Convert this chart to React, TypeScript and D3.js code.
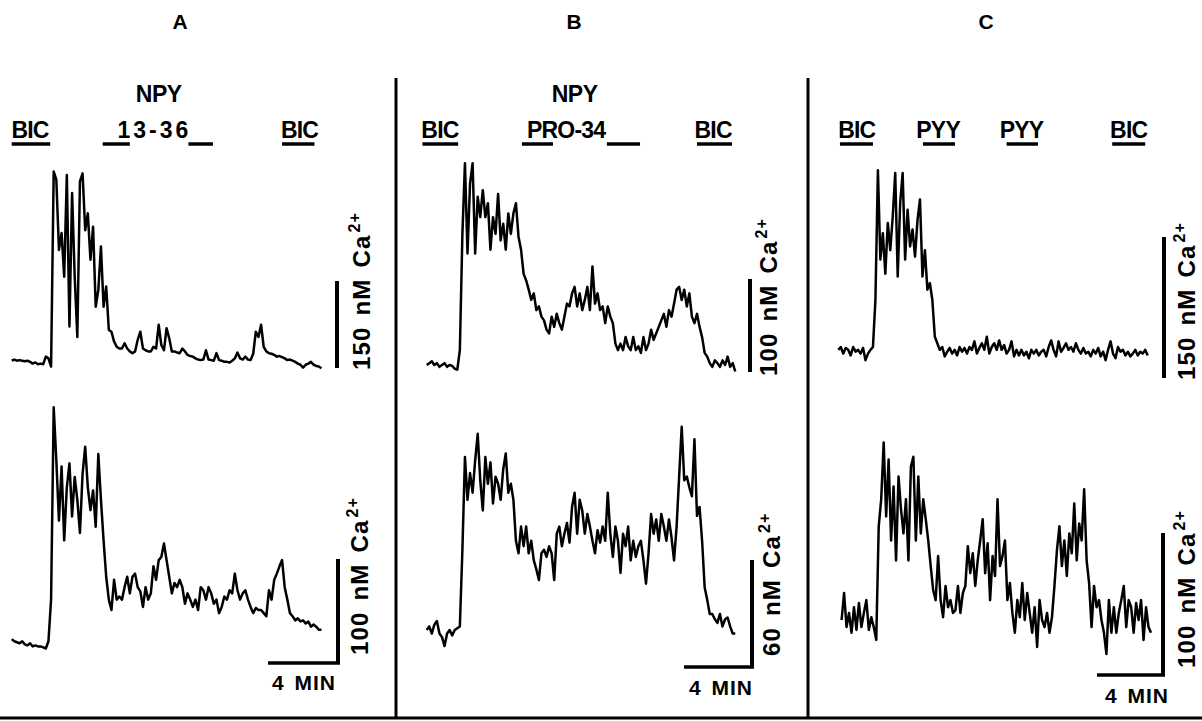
import React from "react";
import * as d3 from "d3";

// ---------- DATA (Δ[Ca2+] in nM, sampled every STEP minutes) ----------
const STEP = 0.15;

const traceATop = [0,2,0,1,0,-1,0,-2,-5,-3,-6,-5,-6,7,4,-10,326,312,191,220,145,320,59,289,145,41,309,323,225,254,174,231,93,122,197,93,128,53,50,33,24,21,21,30,21,16,13,16,36,50,21,18,16,16,24,21,62,27,18,56,39,16,16,14,13,21,16,10,8,7,4,2,1,2,18,2,1,0,13,1,0,-2,-2,-3,0,4,14,4,2,7,2,1,12,50,41,62,24,16,13,12,10,7,8,6,4,1,2,0,-2,-5,-7,-12,-7,-5,-2,-7,-9,-10,-13];
const traceABottom = [4,2,1,0,2,-1,-2,0,-3,-2,-3,-3,-4,-5,2,42,227,176,118,170,99,150,173,122,160,138,106,163,189,150,128,147,112,182,138,99,64,42,32,61,42,45,42,54,64,48,64,67,54,50,35,54,42,48,74,61,80,83,96,80,64,48,58,54,61,54,38,48,42,35,42,32,54,51,42,54,48,38,42,29,35,45,42,51,48,67,51,42,48,51,42,35,29,34,32,32,29,26,51,42,61,67,74,80,54,42,29,26,22,24,21,22,19,21,16,18,16,13,13];
const traceBTop = [0,2,4,0,2,-2,0,2,-2,0,-1,-4,-5,16,141,217,120,195,217,120,181,159,188,159,174,124,159,141,184,134,152,124,163,141,163,174,138,124,98,91,81,70,77,59,63,52,48,38,34,52,41,55,45,38,52,66,63,77,84,63,77,59,70,84,59,106,66,77,59,63,45,63,52,45,23,16,23,16,30,20,16,30,16,20,13,30,16,23,38,27,34,41,48,55,41,59,52,66,81,84,70,81,63,77,52,45,55,41,30,13,9,2,-2,5,2,-2,5,0,9,-2,2,-7];
const traceBBottom = [0,2,-2,3,5,-2,-4,-9,-2,0,-3,0,1,2,45,97,73,88,77,95,110,84,67,97,82,94,71,86,82,73,90,99,77,82,73,50,43,58,47,58,43,50,39,34,28,43,45,41,47,43,28,54,58,47,54,60,49,69,77,54,73,67,54,65,58,50,43,56,49,58,50,77,54,41,58,50,32,54,47,58,39,50,41,47,50,39,26,43,65,54,62,50,65,58,50,62,52,39,58,86,114,84,86,80,75,107,64,69,50,24,17,9,9,6,4,9,2,6,7,2,-2,-2];
const traceCTop = [2,5,-2,4,2,-4,5,0,2,-2,4,-9,-2,2,5,55,193,98,126,83,137,108,144,190,80,158,190,98,151,112,130,101,140,162,80,108,66,73,55,16,9,2,5,-5,0,4,-2,2,-4,5,0,4,-2,5,2,11,-2,4,9,2,16,-2,5,9,2,12,2,7,-2,2,11,-5,2,-4,2,-4,0,-7,2,-2,2,-4,0,2,-5,5,12,2,-5,11,0,4,9,2,5,0,9,2,-2,4,-2,0,-5,2,-2,4,-5,0,-9,2,11,-2,-7,5,0,2,-4,0,-5,-2,2,-4,0,-2,2,-4];
const traceCBottom = [0,19,-5,5,-9,9,-7,12,-5,5,14,-7,2,-5,-14,66,85,125,73,113,56,94,42,101,78,61,85,42,108,115,56,101,61,85,71,56,38,21,14,45,14,2,24,9,14,5,7,24,5,19,24,52,33,47,24,42,56,71,33,54,14,45,31,85,38,45,56,14,26,5,-9,14,2,26,0,19,5,-9,9,-19,14,0,-5,5,-9,2,24,49,66,38,56,31,61,47,82,42,68,56,92,42,26,-5,24,9,14,0,-9,-24,14,-9,9,-9,5,14,24,-5,14,9,-9,12,0,14,-14,9,-5,-9];

// calibration bars (nM) for each trace and time bar (min)
const calibNM = [150, 100, 100, 60, 150, 100];
const timeBarMin = 4;

const panelNames = ["A", "B", "C"];
const agonistHeads = ["NPY", "NPY", ""];

// drug application periods (min)
const barsA = [[0, 2.2], [5.2, 6.75], [10.1, 11.5], [15.45, 17.3]];
const barsB = [[-0.25, 1.85], [5.6, 7.43], [10.6, 12.55], [15.9, 17.96]];
const barsC = [[0.1, 2.1], [5.13, 7.07], [10.2, 12.1], [16.6, 18.6]];
const labelsA = [["BIC", 1.05], ["13-36", 8.15], ["BIC", 16.45]];
const labelsB = [["BIC", 0.78], ["PRO-34", 8.2], ["BIC", 16.85]];
const labelsC = [["BIC", 1.12], ["PYY", 6.05], ["PYY", 11.1], ["BIC", 17.6]];
const headTimes = [8.4, 8.7, 0];

// ---------- LAYOUT ----------
const FONT = "'Liberation Sans', Arial, Helvetica, sans-serif";
const layout = [
  {
    x0: 11.7, ppm: 17.5, headX: 180, bars: barsA, labels: labelsA,
    traces: [
      { data: traceATop, t0: 0, zeroY: 360.7, px: 87, barX: 337, barBottom: 368, lx: 370, ly: 370 },
      { data: traceABottom, t0: 0, zeroY: 643.3, px: 104, barX: 338, barBottom: 663, lx: 368, ly: 655, time: { cx: 304, ty: 690 } },
    ],
  },
  {
    x0: 426.7, ppm: 17, headX: 574, bars: barsB, labels: labelsB,
    traces: [
      { data: traceBTop, t0: 0, zeroY: 365, px: 93, barX: 750, barBottom: 372, lx: 777, ly: 376 },
      { data: traceBBottom, t0: 0, zeroY: 630, px: 107, barX: 752, barBottom: 667, lx: 780, ly: 656, time: { cx: 721, ty: 695 } },
    ],
  },
  {
    x0: 838.3, ppm: 16.5, headX: 986, bars: barsC, labels: labelsC,
    traces: [
      { data: traceCTop, t0: 0, zeroY: 351.7, px: 141, barX: 1164, barBottom: 378, lx: 1195, ly: 380 },
      { data: traceCBottom, t0: 0.2, zeroY: 620, px: 142, barX: 1163, barBottom: 675, lx: 1195, ly: 668, time: { cx: 1137, ty: 703 } },
    ],
  },
];

export default function App() {
  let traceIdx = 0;
  return (
    <svg
      width={1202}
      height={721}
      style={{ position: "absolute", left: 0, top: 0, display: "block", background: "#fff" }}
      fontFamily={FONT}
      fontWeight="bold"
    >
      <rect x={0} y={0} width={1202} height={721} fill="#fff" />
      {/* dividers and bottom rule */}
      <line x1={396} x2={396} y1={78} y2={719} stroke="#000" strokeWidth={3} />
      <line x1={808} x2={808} y1={78} y2={719} stroke="#000" strokeWidth={3} />
      <line x1={0} x2={1202} y1={718} y2={718} stroke="#000" strokeWidth={3} />

      {layout.map((p, pi) => {
        const x = d3.scaleLinear().domain([0, 1]).range([p.x0, p.x0 + p.ppm]);
        return (
          <g key={pi}>
            <text x={p.headX} y={29} fontSize={21} textAnchor="middle">{panelNames[pi]}</text>
            {agonistHeads[pi] && (
              <text x={x(headTimes[pi])} y={102} fontSize={23} textAnchor="middle" letterSpacing={-0.5}>
                {agonistHeads[pi]}
              </text>
            )}
            {p.labels.map(([txt, t], li) => (
              <text
                key={li}
                x={x(t as number)}
                y={138}
                fontSize={23}
                textAnchor="middle"
                letterSpacing={txt === "13-36" ? 3 : -0.8}
              >
                {txt}
              </text>
            ))}
            {p.bars.map(([s, e], bi) => (
              <line key={bi} x1={x(s)} x2={x(e)} y1={144} y2={144} stroke="#000" strokeWidth={3.5} />
            ))}
            {p.traces.map((tr, ti) => {
              const nm = calibNM[traceIdx++];
              const y = d3.scaleLinear().domain([0, nm]).range([tr.zeroY, tr.zeroY - tr.px]);
              const line = d3
                .line<number>()
                .x((_, i) => x(tr.t0 + i * STEP))
                .y((d) => y(d));
              const barLen = y(0) - y(nm);
              const tLen = x(timeBarMin) - x(0);
              return (
                <g key={ti}>
                  <path d={line(tr.data) || ""} fill="none" stroke="#000" strokeWidth={2.5} strokeLinejoin="round" />
                  <line x1={tr.barX} x2={tr.barX} y1={tr.barBottom} y2={tr.barBottom - barLen} stroke="#000" strokeWidth={4} />
                  <text
                    transform={`translate(${tr.lx},${tr.ly}) rotate(-90)`}
                    fontSize={24}
                    letterSpacing={1.2}
                    wordSpacing={3}
                  >
                    {`${nm} nM Ca`}
                    <tspan fontSize={16} dy={-10} dx={2}>2+</tspan>
                  </text>
                  {tr.time && (
                    <g>
                      <line
                        x1={tr.barX - tLen}
                        x2={tr.barX + 2}
                        y1={tr.barBottom}
                        y2={tr.barBottom}
                        stroke="#000"
                        strokeWidth={3.5}
                      />
                      <text x={tr.time.cx} y={tr.time.ty} fontSize={21} textAnchor="middle" letterSpacing={1} wordSpacing={3}>
                        {`${timeBarMin} MIN`}
                      </text>
                    </g>
                  )}
                </g>
              );
            })}
          </g>
        );
      })}
    </svg>
  );
}
